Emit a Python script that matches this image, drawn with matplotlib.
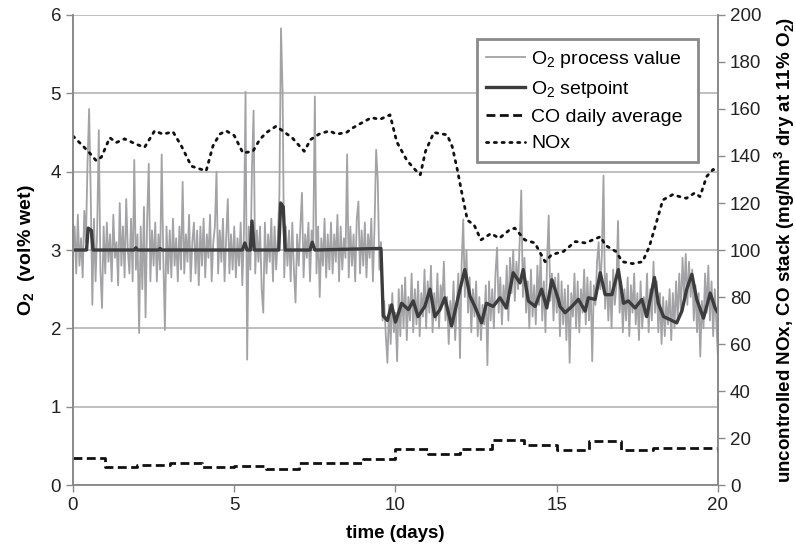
import matplotlib
matplotlib.use("Agg")
import matplotlib.pyplot as plt
import numpy as np

plt.rcParams['font.family'] = ['Liberation Sans', 'DejaVu Sans']
plt.rcParams['mathtext.fontset'] = 'custom'
plt.rcParams['mathtext.rm'] = 'Liberation Sans'
plt.rcParams['mathtext.bf'] = 'Liberation Sans:bold'

# ================== DATA ==================

# O2 process value, one reading every 0.05 day (20 per row = 1 day)
o2_pv = [
    2.95, 3.3, 2.7, 3.45, 2.8, 3.15, 2.65, 3.5, 3.1, 4.1, 4.8, 3.7, 2.3, 3.4, 2.6, 3.25, 4.53, 2.75, 2.26, 3.3,
    2.7, 3.35, 2.85, 3.2, 2.6, 3.45, 2.9, 3.1, 2.55, 3.6, 2.8, 3.3, 2.65, 3.65, 3.0, 2.7, 3.4, 2.6, 4.15, 2.75,
    3.2, 1.94, 3.3, 2.5, 3.55, 2.14, 3.4, 4.1, 2.6, 3.25, 2.8, 3.35, 2.6, 3.2, 2.75, 4.22, 2.9, 1.98, 3.3, 2.7,
    3.25, 2.65, 3.4, 2.8, 3.15, 2.6, 3.3, 2.75, 3.87, 2.7, 3.2, 2.85, 3.45, 2.6, 3.1, 3.35, 2.7, 3.25, 2.55, 3.3,
    2.8, 3.4, 2.65, 3.2, 2.9, 3.45, 2.6, 3.1, 3.3, 4.0, 2.7, 3.25, 2.85, 3.4, 2.6, 3.15, 3.65, 2.7, 3.2, 2.75,
    3.3, 2.65, 3.15, 2.8, 3.35, 2.55, 3.2, 5.02, 1.6, 3.3, 2.75, 4.05, 4.78, 2.7, 3.25, 2.85, 3.3, 2.5, 2.2, 3.35,
    2.7, 3.2, 2.85, 3.4, 2.6, 3.3, 2.75, 3.15, 3.7, 5.83, 5.0, 2.65, 3.3, 2.8, 3.25, 2.6, 3.35, 2.75, 2.33, 3.2,
    2.8, 3.3, 3.73, 2.65, 3.2, 2.9, 3.35, 2.6, 3.25, 3.1, 4.96, 2.7, 3.3, 2.4, 3.15, 2.8, 3.4, 2.65, 3.2, 2.75,
    3.35, 2.7, 3.2, 2.85, 3.45, 2.6, 3.3, 2.75, 3.15, 2.9, 4.22, 2.65, 3.3, 2.8, 3.2, 2.6, 3.4, 3.62, 2.7, 3.25,
    2.8, 3.35, 2.65, 3.2, 2.9, 3.4, 2.6, 3.3, 4.28, 3.9, 2.75, 3.1, 2.1, 2.35, 1.9, 1.56, 2.3, 1.8, 2.45, 1.95,
    2.2, 1.58, 2.5, 1.9, 2.55, 2.0, 2.65, 1.85, 2.4, 2.1, 2.7, 1.95, 2.5, 2.05, 2.6, 1.9, 2.45, 2.15, 2.75, 2.0,
    2.6, 2.2, 2.8, 1.95, 2.45, 2.1, 2.7, 2.0, 2.55, 2.3, 2.85, 2.1, 2.4, 1.8, 2.35, 2.05, 2.6, 1.85, 2.3, 2.7,
    1.62, 2.8, 3.39, 2.4, 3.0, 2.2, 2.65, 1.95, 2.5, 2.15, 2.6, 1.9, 2.4, 1.85, 2.3, 2.05, 2.55, 1.53, 2.6, 2.1,
    2.5, 2.0, 2.7, 3.03, 2.2, 2.65, 2.05, 2.55, 2.25, 2.8, 2.1, 2.9, 2.45, 3.0, 2.35, 2.85, 2.5, 3.1, 3.76, 2.4,
    2.9, 2.2, 2.6, 2.0, 2.75, 2.15, 2.55, 2.05, 2.8, 2.3, 2.95, 2.1, 2.6, 1.95, 2.85, 3.44, 2.35, 2.7, 2.1, 2.65,
    2.2, 2.7, 1.9, 2.6, 2.05, 2.5, 1.85, 2.55, 1.56, 2.45, 2.15, 2.7, 2.0, 2.6, 1.95, 2.5, 2.2, 2.75, 2.05, 2.65,
    2.1, 2.6, 1.58, 2.55, 2.3, 2.85, 3.1, 2.5, 2.95, 3.95, 2.25, 2.7, 2.1, 2.6, 2.0, 2.75, 2.3, 2.55, 3.37, 2.2,
    2.6, 1.95, 2.5, 2.1, 2.65, 1.9, 2.55, 2.2, 2.7, 2.05, 2.45, 1.85, 2.6, 2.0, 2.4, 2.15, 2.7, 1.95, 2.5, 2.1,
    2.85, 2.2, 2.6, 1.95, 2.45, 1.8, 2.4, 1.9, 2.35, 2.05, 2.5, 1.85, 2.45, 2.0, 2.6, 2.1, 2.7, 2.2, 2.9, 2.4,
    2.95, 2.3, 2.85, 2.4, 2.75, 2.1, 2.55, 1.95, 2.45, 1.64, 2.35, 2.0, 2.7, 2.2, 2.8, 2.1, 2.6, 1.9, 2.5, 2.05,
    1.62,
]
pv_step = 0.05

# O2 setpoint, read as (day, vol%) points
sp_days = [0, 0.42, 0.47, 0.57, 0.62, 1.9, 1.95, 2.0, 2.65, 2.7, 2.75, 5.25, 5.33, 5.4, 5.5, 5.55,
           5.62, 6.38, 6.44, 6.52, 6.58, 7.35, 7.42, 7.5, 9.55, 9.62, 9.75, 9.88, 10.0,
           10.19, 10.4, 10.55, 10.7, 10.91, 11.07, 11.22, 11.38, 11.53, 11.74, 12.0, 12.15,
           12.31, 12.46, 12.67, 12.82, 13.03, 13.24, 13.44, 13.65, 13.86, 13.96, 14.12, 14.33,
           14.53, 14.69, 14.85, 15.05, 15.1, 15.26, 15.47, 15.67, 15.88, 15.98, 16.19, 16.35,
           16.5, 16.71, 16.91, 17.07, 17.22, 17.43, 17.64, 17.79, 18.03, 18.15, 18.31, 18.52,
           18.72, 18.88, 19.03, 19.19, 19.34, 19.55, 19.76, 19.91, 20.0]
sp_vals = [3.0, 3.0, 3.28, 3.25, 3.0, 3.0, 3.03, 3.0, 3.0, 3.02, 3.0, 3.0, 3.09, 3.0, 3.0, 3.37,
           3.0, 3.0, 3.6, 3.55, 3.0, 3.0, 3.1, 3.0, 3.02, 2.16, 2.1, 2.3, 2.08,
           2.32, 2.24, 2.35, 2.15, 2.28, 2.5, 2.15, 2.24, 2.39, 2.03, 2.5, 2.75,
           2.41, 2.28, 2.07, 2.32, 2.28, 2.39, 2.26, 2.71, 2.58, 2.75, 2.35, 2.28,
           2.5, 2.26, 2.62, 2.37, 2.28, 2.2, 2.28, 2.37, 2.22, 2.39, 2.37, 2.71,
           2.43, 2.43, 2.75, 2.32, 2.35, 2.26, 2.37, 2.15, 2.65, 2.32, 2.15, 2.11,
           2.07, 2.22, 2.5, 2.69, 2.37, 2.13, 2.45, 2.26, 2.2]

# CO daily average (mg/Nm3), one value per day
co_days = list(range(21))
co_vals = [11.5, 7.5, 8.5, 9.2, 7.5, 8.3, 7.0, 9.2, 9.2, 10.9, 15.2, 13.0, 15.2, 19.0, 17.2,
           14.9, 18.7, 14.7, 15.6, 15.6, 14.0]

# uncontrolled NOx (mg/Nm3)
nox_days = [0, 0.47, 0.72, 0.88, 1.14, 1.34, 1.6, 1.96, 2.22, 2.53, 2.79, 3.1, 3.36, 3.67, 3.88,
            4.13, 4.34, 4.55, 4.75, 5.0, 5.27, 5.58, 5.79, 6.0, 6.3, 6.5, 6.8, 7.17, 7.37, 7.63,
            7.95, 8.17, 8.48, 8.68, 8.9, 9.25, 9.52, 9.83, 10.04, 10.36, 10.62, 10.77, 10.93,
            11.19, 11.6, 11.76, 11.92, 12.08, 12.23, 12.44, 12.65, 12.96, 13.22, 13.54, 13.7,
            14.01, 14.32, 14.64, 14.84, 15.21, 15.58, 15.89, 16.36, 16.51, 16.83, 17.04, 17.35,
            17.66, 17.87, 18.08, 18.29, 18.6, 18.81, 19.02, 19.28, 19.44, 19.65, 19.85, 20.0]
nox_vals = [148.5, 142, 138, 139.5, 147.8, 145.7, 147.3, 145, 143.7, 150.7, 149.3, 150.3, 144.3,
            135.7, 134.7, 133.7, 144.3, 149.3, 150.7, 148.7, 141.3, 142, 147, 150, 152.7, 150.7,
            147.7, 142, 147, 149.3, 150.7, 149.3, 150, 152, 153.7, 156.3, 155.6, 157.5, 146, 138,
            134, 132, 142, 150, 149, 144, 134, 122.7, 112.7, 110.6, 104.3, 107, 105, 108.6, 109.3,
            104.3, 103, 95, 98, 99.4, 103.6, 103, 105.7, 102, 99.4, 95, 94.2, 95, 101.4, 111.3,
            121.3, 123.6, 122.7, 122, 124.3, 122.7, 131.3, 134.3, 133]

# ================== PLOT ==================

fig = plt.figure(figsize=(7.96, 5.47), dpi=100)
ax = fig.add_axes([0.0917, 0.1133, 0.8103, 0.8593])
ax2 = ax.twinx()

pv_days = np.arange(len(o2_pv)) * pv_step
l_pv, = ax.plot(pv_days, o2_pv, color="#a3a3a5", lw=1.3, label=r"O$_2$ process value")
l_sp, = ax.plot(sp_days, sp_vals, color="#3c3c3c", lw=2.4, label=r"O$_2$ setpoint")

l_co, = ax2.plot(co_days, co_vals, color="#111111", lw=2.0, ls=(0, (3.2, 1.6)),
                 drawstyle="steps-post", label="CO daily average")
l_nox, = ax2.plot(nox_days, nox_vals, color="#111111", lw=2.0, ls=(0, (0.8, 2.0)),
                  dash_capstyle="round", label="NOx")

ax.set_xlim(0, 20)
ax.set_ylim(0, 6)
ax2.set_ylim(0, 200)
ax.set_xticks([0, 5, 10, 15, 20])
ax.set_yticks(range(7))
ax2.set_yticks(range(0, 201, 20))

ax.grid(axis="y", color="#b4b4b4", lw=1.2)
ax.set_axisbelow(True)

for a in (ax, ax2):
    a.spines["top"].set_visible(False)
    for s in ("left", "right", "bottom"):
        a.spines[s].set_color("#8a8a8a")
        a.spines[s].set_linewidth(1.2)
    a.tick_params(colors="#8a8a8a", labelcolor="#222222", labelsize=13.5, length=5, width=1)

ax.set_xlabel("time (days)", fontsize=13.5, fontweight="bold", labelpad=8)
ax.set_ylabel(r"O$_\mathbf{2}$  (vol% wet)", fontsize=14, fontweight="bold", labelpad=10)
ax2.set_ylabel(r"uncontrolled NOx, CO stack (mg/Nm$^\mathbf{3}$ dry at 11% O$_\mathbf{2}$)",
               fontsize=13.5, fontweight="bold", labelpad=8)

leg = ax2.legend(handles=[l_pv, l_sp, l_co, l_nox], loc="lower left",
                 bbox_to_anchor=(0.626, 0.687, 0.343, 0.274), mode="expand",
                 fontsize=14, handlelength=2.0, handletextpad=0.3, borderaxespad=0,
                 borderpad=0.5, fancybox=False, framealpha=1, labelspacing=0.45)
leg.get_frame().set_edgecolor("#8a8a8a")
leg.get_frame().set_linewidth(2)

fig.savefig("out.png", dpi=100)
